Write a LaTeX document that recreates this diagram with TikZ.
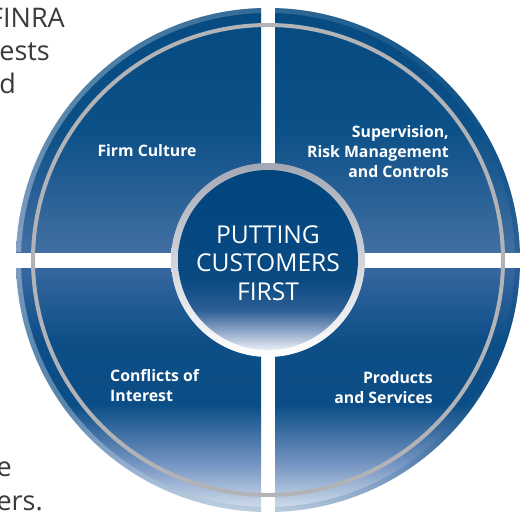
\documentclass[tikz,border=0pt]{standalone}
\usepackage{fontspec}
\setmainfont{Open Sans}
\definecolor{ringgray}{HTML}{B2B3B6}
\definecolor{bordgray}{HTML}{A3A8B4}
\definecolor{bgtxt}{HTML}{3A3A3A}
\definecolor{qdark}{HTML}{054A80}
\definecolor{qmid}{HTML}{0C5088}
\definecolor{qlight}{HTML}{426FA2}
\definecolor{bq0}{HTML}{D8E2EF}
\definecolor{bq1}{HTML}{7494C2}
\definecolor{bq2}{HTML}{0B4D86}
\definecolor{bq3}{HTML}{0D4E87}
\definecolor{bq4}{HTML}{3767A0}
\definecolor{ic0}{HTML}{E9EEF5}
\definecolor{ic1}{HTML}{93AACB}
\definecolor{ic2}{HTML}{2F5F96}
\definecolor{ic3}{HTML}{0A4A83}
\definecolor{ic4}{HTML}{00457E}
\pgfdeclareverticalshading{topq}{100bp}{color(0bp)=(qlight); color(25bp)=(qlight); color(50bp)=(qmid); color(75bp)=(qdark); color(100bp)=(qdark)}
\pgfdeclareverticalshading{botq}{100bp}{color(0bp)=(bq0); color(25bp)=(bq0); color(35bp)=(bq1); color(47bp)=(bq2); color(60bp)=(bq3); color(75bp)=(bq4); color(100bp)=(bq4)}
\pgfdeclareverticalshading{innerc}{100bp}{color(0bp)=(ic0); color(25bp)=(ic0); color(30bp)=(ic1); color(36bp)=(ic2); color(44bp)=(ic3); color(75bp)=(ic4); color(100bp)=(ic4)}
\tikzset{
  bgtext/.style={text=bgtxt, font=\fontsize{27}{34}\selectfont, inner sep=0pt},
  qlabel/.style={text=white, font=\fontsize{15.8}{20}\selectfont\bfseries, inner sep=0pt},
  clabel/.style={text=white, font=\fontsize{24.6}{28.5}\selectfont, align=center, inner sep=0pt}
}
\begin{document}
\begin{tikzpicture}[x=1pt,y=-1pt]
\useasboundingbox (0,0) rectangle (522,512);
\clip (0,0) rectangle (522,512);
\fill[white] (0,0) rectangle (522,512);
% surrounding text fragments
\node[bgtext, anchor=base east] (f1) at (65,27) {FINRA};
\node[bgtext, anchor=base east] (f2) at (50,60) {ests};
\node[bgtext, anchor=base east] (f3) at (16,93) {d};
\node[bgtext, anchor=base east] (f4) at (12,476) {e};
\node[bgtext, anchor=base east] (f5) at (43,510) {ers.};
\coordinate (C) at (268,260);
% quadrants
\begin{scope}
  \clip (C) circle (252);
  \shade[shading=topq] (14,8) rectangle (261,252);
  \shade[shading=topq] (275,8) rectangle (521,252);
  \shade[shading=botq] (14,268) rectangle (261,512);
  \shade[shading=botq] (275,268) rectangle (521,512);
\end{scope}
% outer bevel
\begin{scope}
  \clip (0,0) rectangle (261,252) (275,0) rectangle (522,252) (0,268) rectangle (261,512) (275,268) rectangle (522,512);
  \shade[left color=white, right color=qdark, even odd rule, opacity=0.35] (C) circle (252) (C) circle (247);
\end{scope}
% gray ring
\draw[ringgray, line width=4pt] (C) circle (235);
% centre circle
\shade[top color=bordgray, bottom color=white] (C) circle (97);
\shade[shading=innerc] (C) circle (90);
% labels
\node[clabel] (center) at (268,263) {PUTTING\\CUSTOMERS\\FIRST};
\node[qlabel, anchor=base] (fc) at (147,156) {Firm Culture};
\node[qlabel, align=right, anchor=base east] (sv) at (449,177) {Supervision,\\Risk Management\\and Controls};
\node[qlabel, align=left, anchor=base west] (ci) at (110,401) {Conflicts of\\Interest};
\node[qlabel, align=right, anchor=base east] (ps) at (433,403) {Products\\and Services};
\end{tikzpicture}
\end{document}
